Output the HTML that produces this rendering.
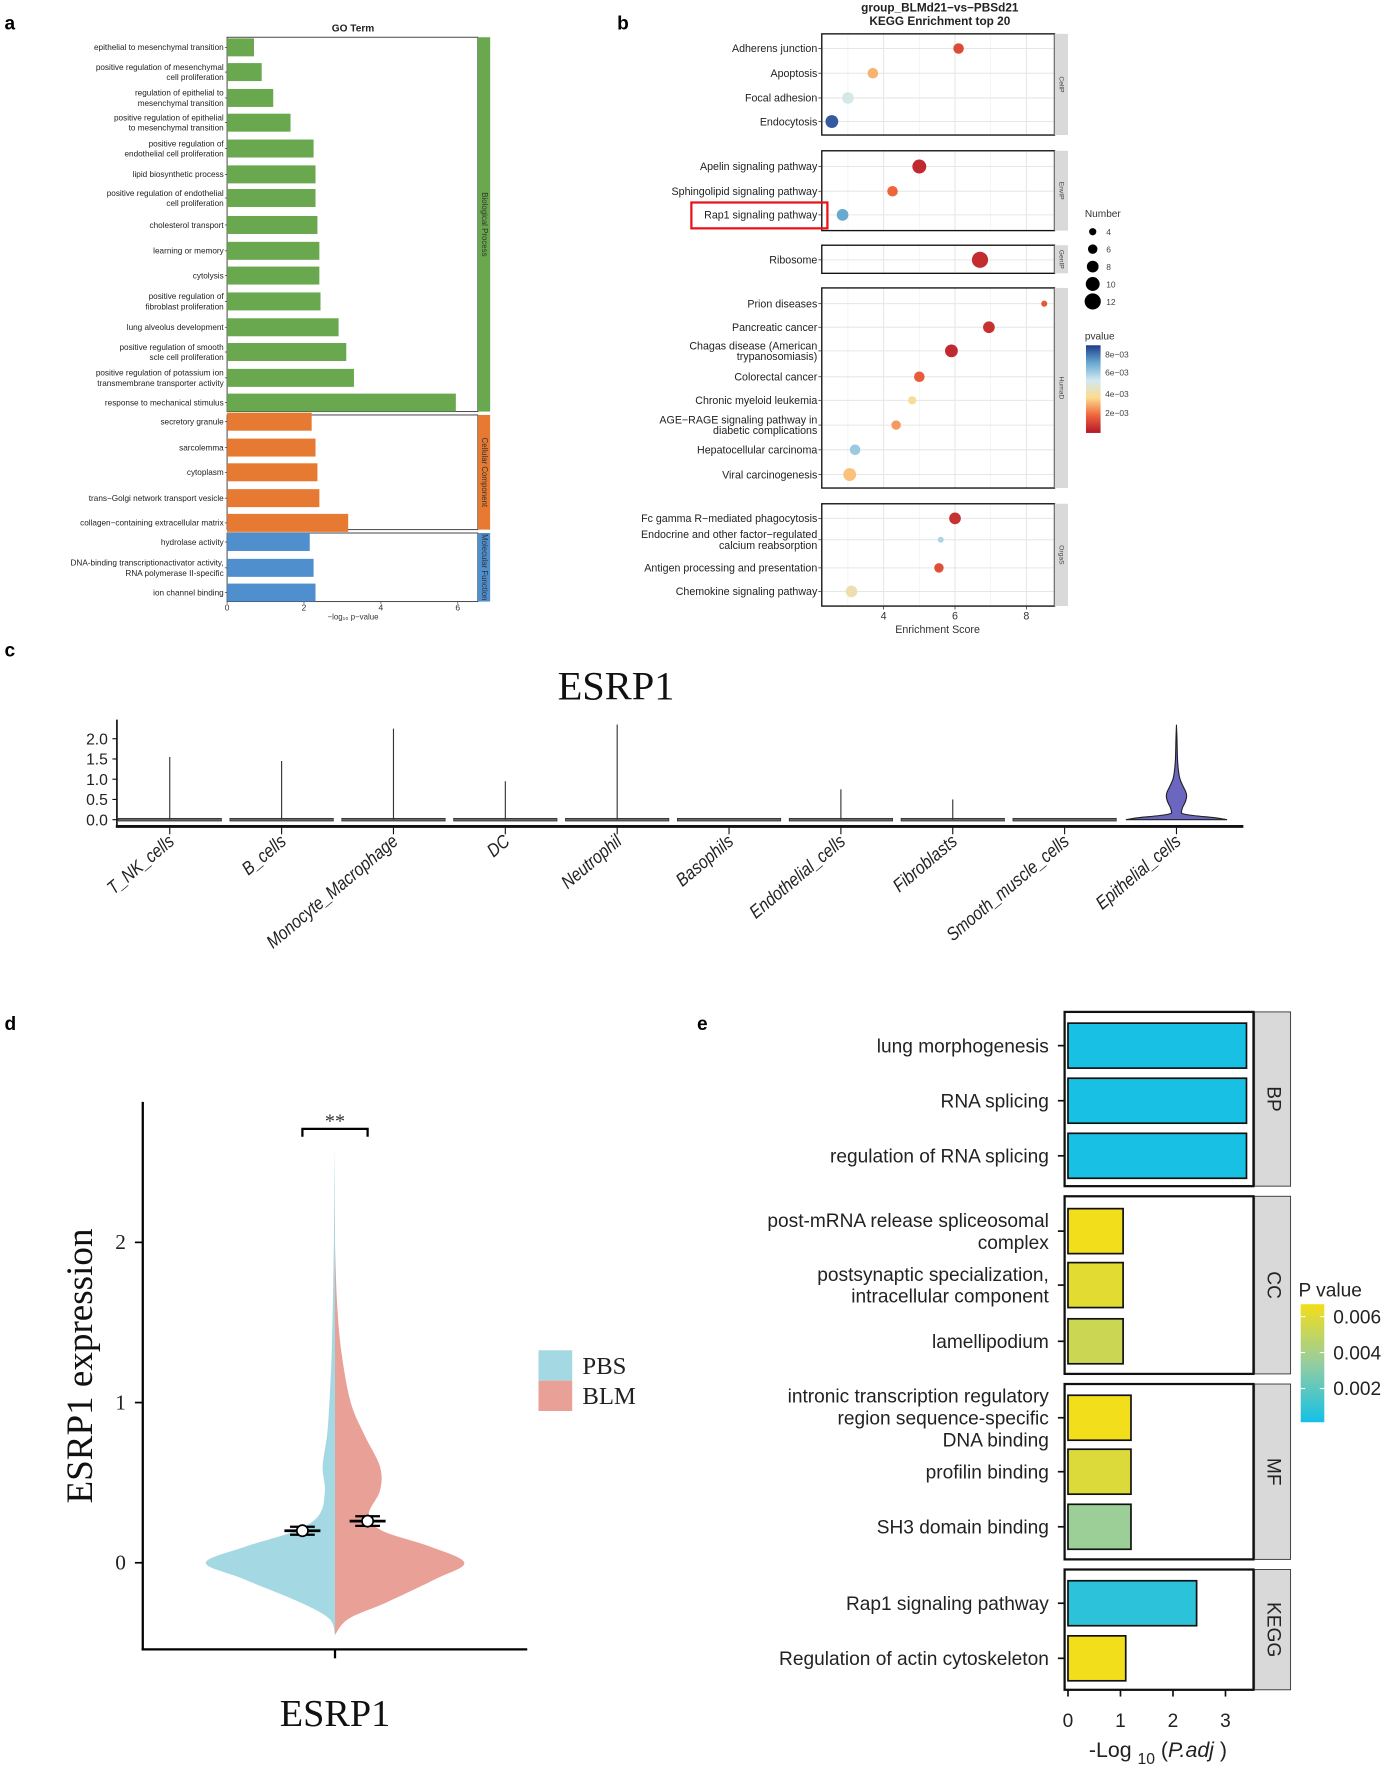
<!DOCTYPE html>
<html><head><meta charset="utf-8"><style>
html,body{margin:0;padding:0;background:#fff;}
svg{display:block;}
text{font-family:"Liberation Sans",sans-serif;}
.serif{font-family:"Liberation Serif",serif;}
</style></head><body>
<svg id="fig" width="1394" height="1772" viewBox="0 0 1240 1576" xmlns="http://www.w3.org/2000/svg">
<rect width="1240" height="1576" fill="#fff"/>
<g id="pa"></g>
<g id="pb"></g>
<g id="pc"></g>
<g id="pd"></g>
<g id="pe"></g>
</svg>
<script>
// ---------- Panel a data ----------
const goBP = ["epithelial to mesenchymal transition","positive regulation of mesenchymal|cell proliferation","regulation of epithelial to|mesenchymal transition","positive regulation of epithelial|to mesenchymal transition","positive regulation of|endothelial cell proliferation","lipid biosynthetic process","positive regulation of endothelial|cell proliferation","cholesterol transport","learning or memory","cytolysis","positive regulation of|fibroblast proliferation","lung alveolus development","positive regulation of smooth|scle cell proliferation","positive regulation of potassium ion|transmembrane transporter activity","response to mechanical stimulus"];
const goBPVal = [0.7,0.9,1.2,1.65,2.25,2.3,2.3,2.35,2.4,2.4,2.43,2.9,3.1,3.3,5.95];
const goCC = ["secretory granule","sarcolemma","cytoplasm","trans−Golgi network transport vesicle","collagen−containing extracellular matrix"];
const goCCVal = [2.2,2.3,2.35,2.4,3.15];
const goMF = ["hydrolase activity","DNA-binding transcriptionactivator activity,|RNA polymerase II-specific","ion channel binding"];
const goMFVal = [2.15,2.25,2.3];
const goTicks = [0,2,4,6];
// ---------- Panel b data ----------
const keggTerms = ["Adherens junction","Apoptosis","Focal adhesion","Endocytosis","Apelin signaling pathway","Sphingolipid signaling pathway","Rap1 signaling pathway","Ribosome","Prion diseases","Pancreatic cancer","Chagas disease (American|trypanosomiasis)","Colorectal cancer","Chronic myeloid leukemia","AGE−RAGE signaling pathway in|diabetic complications","Hepatocellular carcinoma","Viral carcinogenesis","Fc gamma R−mediated phagocytosis","Endocrine and other factor−regulated|calcium reabsorption","Antigen processing and presentation","Chemokine signaling pathway"];
const keggScore = [6.1,3.7,3.0,2.55,5.0,4.25,2.85,6.7,8.5,6.95,5.9,5.0,4.8,4.35,3.2,3.05,6.0,5.6,5.55,3.1];
const keggNumber = [7,7,8,9,10,7,8,12,3,8,9,7,5,6,7,9,8,3,6,8];
const keggP = [0.0012,0.003,0.0052,0.0085,0.0004,0.0018,0.0072,0.0005,0.0015,0.0006,0.0004,0.0016,0.0038,0.0026,0.0063,0.0032,0.0006,0.006,0.0013,0.0042];
const keggGroup = ["CellP","CellP","CellP","CellP","EnvIP","EnvIP","EnvIP","GenIP","HumaD","HumaD","HumaD","HumaD","HumaD","HumaD","HumaD","HumaD","OrgaS","OrgaS","OrgaS","OrgaS"];
const keggTicks = [4,6,8];
// ---------- Panel c data ----------
const cellTypes = ["T_NK_cells","B_cells","Monocyte_Macrophage","DC","Neutrophil","Basophils","Endothelial_cells","Fibroblasts","Smooth_muscle_cells","Epithelial_cells"];
const cellMax = [1.55,1.45,2.25,0.95,2.35,0,0.75,0.5,0,2.3];
const cTicks = [0.0,0.5,1.0,1.5,2.0];
const epiY = [0,0.05,0.1,0.15,0.2,0.3,0.4,0.5,0.6,0.7,0.8,1.0,1.2,1.5,2.0,2.3];
const epiW = [1,0.75,0.35,0.12,0.1,0.12,0.16,0.19,0.2,0.18,0.14,0.07,0.04,0.02,0.01,0];
// ---------- Panel d data ----------
const violY = [-0.45,-0.35,-0.25,-0.1,0,0.1,0.2,0.3,0.45,0.6,0.8,1.0,1.3,1.6,2.0,2.3,2.6];
const pbsW = [0,5,30,82,115,80,35,14,9,11,7,5,3,2,1,0.5,0];
const blmW = [0,12,45,90,115,85,42,30,40,40,26,14,6,2,0,0,0];
const groupMean = [0.2,0.26];
const groupErr = [0.025,0.03];
const dTicks = [0,1,2];
// ---------- Panel e data ----------
const eTerms = ["lung morphogenesis","RNA splicing","regulation of RNA splicing","post-mRNA release spliceosomal|complex","postsynaptic specialization,|intracellular component","lamellipodium","intronic transcription regulatory|region sequence-specific|DNA binding","profilin binding","SH3 domain binding","Rap1 signaling pathway","Regulation of actin cytoskeleton"];
const eVal = [3.4,3.4,3.4,1.05,1.05,1.05,1.2,1.2,1.2,2.45,1.1];
const eP = [0.0001,0.0001,0.0001,0.0066,0.006,0.0052,0.0066,0.0058,0.0035,0.0006,0.0066];
const eGroup = ["BP","BP","BP","CC","CC","CC","MF","MF","MF","KEGG","KEGG"];
const eTicks = [0,1,2,3];

const NS="http://www.w3.org/2000/svg";
function mk(tag,attrs,parent,txt){const e=document.createElementNS(NS,tag);for(const k in attrs)e.setAttribute(k,attrs[k]);if(txt!==undefined)e.textContent=txt;parent.appendChild(e);return e;}
function mlText(parent,lines,x,yc,size,lh,anchor,cls){const t=mk('text',{x:x,'font-size':size,'text-anchor':anchor||'end',fill:'#222'},parent);if(cls)t.setAttribute('class',cls);const n=lines.length;lines.forEach((l,i)=>{mk('tspan',{x:x,y:yc+(i-(n-1)/2)*lh+size*0.35},t,l);});return t;}
function lerpColor(stops,t){t=Math.max(0,Math.min(1,t));const s=t*(stops.length-1);const i=Math.min(Math.floor(s),stops.length-2);const f=s-i;const a=stops[i],b=stops[i+1];const c=[0,1,2].map(k=>Math.round(a[k]+(b[k]-a[k])*f));return `rgb(${c[0]},${c[1]},${c[2]})`;}
function smooth(pts){let d='M'+pts[0][0]+','+pts[0][1];for(let i=0;i<pts.length-1;i++){const p0=pts[Math.max(i-1,0)],p1=pts[i],p2=pts[i+1],p3=pts[Math.min(i+2,pts.length-1)];
 const c1=[p1[0]+(p2[0]-p0[0])/6,p1[1]+(p2[1]-p0[1])/6],c2=[p2[0]-(p3[0]-p1[0])/6,p2[1]-(p3[1]-p1[1])/6];
 d+=`C${c1[0]},${c1[1]} ${c2[0]},${c2[1]} ${p2[0]},${p2[1]}`;}return d;}
function label(p,txt,x,y){const t=mk('text',{x:x,y:y,'font-size':17,'font-weight':'bold',fill:'#000'},p,txt);}

// ================= Panel A =================
(function(){
const p=document.getElementById('pa');
label(p,'a',4,26);
let t=mk('text',{x:314,y:28,'font-size':9,'font-weight':'bold','text-anchor':'middle',fill:'#222'},p,'GO Term');

const x0=202,ux=34.2;const xs=v=>x0+v*ux;
const groups=[{names:goBP,vals:goBPVal,y0:33,y1:366,col:'#6aa84f',strip:'Biological Process',rows:[42,64,87,109,132,155,176,200,223,245,268,291,313,336,358]},
{names:goCC,vals:goCCVal,y0:369,y1:471,col:'#e67a33',strip:'Cellular Component',rows:[375,398,420,443,465]},
{names:goMF,vals:goMFVal,y0:474,y1:535,col:'#4f8fce',strip:'Molecular Function',rows:[482,505,527]}];
groups.forEach((g,gi)=>{
  const box=mk('rect',{x:x0,y:g.y0,width:223,height:g.y1-g.y0,fill:'#fff',stroke:'#333','stroke-width':0.8},p);
  
  const st=mk('rect',{x:425,y:g.y0,width:11,height:g.y1-g.y0,fill:g.col},p);
  
  const cy=(g.y0+g.y1)/2;
  const sl=mk('text',{x:430.5,y:cy,'font-size':7,'text-anchor':'middle',fill:'#333',transform:`rotate(90 430.5 ${cy})`,'dominant-baseline':'middle'},p,g.strip);
  
  g.names.forEach((n,i)=>{
    const y=g.rows[i];
    const b=mk('rect',{x:x0,y:y-8,width:xs(g.vals[i])-x0,height:16,fill:g.col},p);
    
    mk('line',{x1:x0-2,x2:x0,y1:y,y2:y,stroke:'#333','stroke-width':0.6},p);
    const lt=mlText(p,n.split('|'),x0-3,y,7.3,9);
    
  });
});
goTicks.forEach(v=>{mk('line',{x1:xs(v),x2:xs(v),y1:535,y2:537,stroke:'#333','stroke-width':0.6},p);
  const tk=mk('text',{x:xs(v),y:543,'font-size':7.5,'text-anchor':'middle',fill:'#333'},p,String(v));
  });
t=mk('text',{x:314,y:551,'font-size':7,'text-anchor':'middle',fill:'#333'},p,'−log₁₀ p−value');

})();

// ================= Panel B =================
(function(){
const p=document.getElementById('pb');
label(p,'b',549,26);
let t=mk('text',{x:836,y:10,'font-size':10.5,'font-weight':'bold','text-anchor':'middle',fill:'#222'},p,'group_BLMd21−vs−PBSd21');

t=mk('text',{x:836,y:22,'font-size':10.5,'font-weight':'bold','text-anchor':'middle',fill:'#222'},p,'KEGG Enrichment top 20');

const x0=731,x1=938;const xs=v=>786+(v-4)*31.75;
const facets={CellP:[30,120],EnvIP:[134,205],GenIP:[218,243],HumaD:[256,434],OrgaS:[448,539]};
const rows=[43,65,87,108,148,170,191,231,270,291,312,335,356,378,400,422,461,480,505,526];
const pStops=[[178,24,43],[239,100,60],[253,219,140],[209,233,242],[103,169,207],[33,60,140]];
const rOf=n=>1.2+n*0.5;
for(const k in facets){const [a,b]=facets[k];
  const bx=mk('rect',{x:x0,y:a,width:x1-x0,height:b-a,fill:'#fff'},p);
  
  [3,5,7].forEach(v=>mk('line',{x1:xs(v),x2:xs(v),y1:a,y2:b,stroke:'#f0f0f0','stroke-width':0.6},p));
  keggTicks.forEach(v=>mk('line',{x1:xs(v),x2:xs(v),y1:a,y2:b,stroke:'#e6e6e6','stroke-width':0.9},p));
  keggGroup.forEach((g,i)=>{if(g===k)mk('line',{x1:x0,x2:x1,y1:rows[i],y2:rows[i],stroke:'#e6e6e6','stroke-width':0.9},p);});
  mk('rect',{x:x0,y:a,width:x1-x0,height:b-a,fill:'none',stroke:'#111','stroke-width':1.2},p);
  const st=mk('rect',{x:x1,y:a,width:12,height:b-a,fill:'#d9d9d9'},p);
  
  const cy=(a+b)/2;
  const sl=mk('text',{x:944,y:cy,'font-size':6,'text-anchor':'middle','dominant-baseline':'middle',fill:'#444',transform:`rotate(90 944 ${cy})`},p,k);
  
}
keggTerms.forEach((n,i)=>{const y=rows[i];
  mk('line',{x1:x0-3,x2:x0,y1:y,y2:y,stroke:'#333','stroke-width':0.7},p);
  const lt=mlText(p,n.split('|'),x0-4,y,9.5,9.5);
  
  const c=mk('circle',{cx:xs(keggScore[i]),cy:y,r:rOf(keggNumber[i]),fill:lerpColor(pStops,keggP[i]/0.009)},p);
  
});
const hb=mk('rect',{x:615,y:180,width:121,height:23,fill:'none',stroke:'#e8141a','stroke-width':2},p);

keggTicks.forEach(v=>{mk('line',{x1:xs(v),x2:xs(v),y1:539,y2:542,stroke:'#333','stroke-width':0.7},p);
  const tk=mk('text',{x:xs(v),y:551,'font-size':9.5,'text-anchor':'middle',fill:'#333'},p,String(v));
  });
t=mk('text',{x:834,y:563,'font-size':9.5,'text-anchor':'middle',fill:'#333'},p,'Enrichment Score');

t=mk('text',{x:965,y:193,'font-size':9,fill:'#333'},p,'Number');

[4,6,8,10,12].forEach((n,i)=>{const y=206+i*15.5;
  const c=mk('circle',{cx:972,cy:y,r:rOf(n),fill:'#000'},p);
  
  const lt=mk('text',{x:984,y:y+3,'font-size':7.5,fill:'#444'},p,String(n));
  });
t=mk('text',{x:965,y:302,'font-size':9,fill:'#333'},p,'pvalue');

const defs=mk('defs',{},p);const lg=mk('linearGradient',{id:'pg',x1:0,y1:1,x2:0,y2:0},defs);
pStops.forEach((s,i)=>mk('stop',{offset:i/(pStops.length-1),'stop-color':`rgb(${s})`},lg));
const cb=mk('rect',{x:966,y:307,width:13,height:78,fill:'url(#pg)'},p);

[['8e−03',315],['6e−03',331],['4e−03',350],['2e−03',367]].forEach(([s,y])=>{
  const lt=mk('text',{x:983,y:y+3,'font-size':7.5,fill:'#444'},p,s);
  });
})();

// ================= Panel C =================
(function(){
const p=document.getElementById('pc');
label(p,'c',4,584);
let t=mk('text',{x:548,y:622,'font-size':36,'text-anchor':'middle',fill:'#111',class:'serif'},p,'ESRP1');

const ys=v=>729-v*36;const xc=i=>151+i*99.5;
mk('line',{x1:104,x2:104,y1:640,y2:736,stroke:'#111','stroke-width':1.5},p);
mk('line',{x1:103,x2:1106,y1:735,y2:735,stroke:'#111','stroke-width':2.5},p);
cTicks.forEach(v=>{mk('line',{x1:100,x2:104,y1:ys(v),y2:ys(v),stroke:'#111','stroke-width':1},p);
  const tk=mk('text',{x:96,y:ys(v)+5,'font-size':14,'text-anchor':'end',fill:'#222'},p,v.toFixed(1));
  });
cellTypes.forEach((n,i)=>{const x=xc(i);
  if(i<9){const fl=mk('rect',{x:x-46,y:ys(0)-1.2,width:92,height:2.4,fill:'#666',stroke:'#222','stroke-width':0.6},p);
    }
  if(cellMax[i]>0){const l=mk('line',{x1:x,x2:x,y1:ys(0),y2:ys(cellMax[i]),stroke:'#333','stroke-width':1},p);
    }
  mk('line',{x1:x,x2:x,y1:736,y2:742,stroke:'#111','stroke-width':1},p);
  const lb=mk('text',{x:0,y:0,'font-size':16.5,'font-style':'italic','text-anchor':'end',fill:'#222',transform:`translate(${x+5} 750) rotate(-40) scale(0.85 1)`},p,n);
  
});
const x=xc(9);const pts=[];
epiY.forEach((v,k)=>pts.push([x+epiW[k]*45,ys(v)]));
for(let k=epiY.length-1;k>=0;k--)pts.push([x-epiW[k]*45,ys(epiY[k])]);
const vp=mk('path',{d:smooth(pts)+'Z',fill:'#6b66c0',stroke:'#222','stroke-width':1},p);

})();

// ================= Panel D =================
(function(){
const p=document.getElementById('pd');
label(p,'d',4,916);
const ys=v=>1390-v*142.5;const xc=298;
let pts=violY.map((v,k)=>[xc-pbsW[k],ys(v)]);
let v=mk('path',{d:smooth(pts)+'L'+xc+','+ys(violY[violY.length-1])+'L'+xc+','+ys(violY[0])+'Z',fill:'#a4d8e3'},p);

pts=violY.map((y,k)=>[xc+blmW[k],ys(y)]);
v=mk('path',{d:smooth(pts)+'L'+xc+','+ys(violY[0])+'Z',fill:'#e9a097'},p);

[[269,0],[327,1]].forEach(([x,i])=>{
  const g=mk('g',{},p);
  mk('line',{x1:x-16,x2:x+16,y1:ys(groupMean[i]),y2:ys(groupMean[i]),stroke:'#000','stroke-width':2.5},g);
  mk('line',{x1:x-11,x2:x+11,y1:ys(groupMean[i]+groupErr[i]),y2:ys(groupMean[i]+groupErr[i]),stroke:'#000','stroke-width':2},g);
  mk('line',{x1:x-11,x2:x+11,y1:ys(groupMean[i]-groupErr[i]),y2:ys(groupMean[i]-groupErr[i]),stroke:'#000','stroke-width':2},g);
  mk('circle',{cx:x,cy:ys(groupMean[i]),r:5,fill:'#fff',stroke:'#000','stroke-width':1.5},g);
});
mk('line',{x1:127,x2:127,y1:980,y2:1468,stroke:'#000','stroke-width':2},p);
mk('line',{x1:126,x2:469,y1:1467,y2:1467,stroke:'#000','stroke-width':2},p);
mk('line',{x1:xc,x2:xc,y1:1467,y2:1475,stroke:'#000','stroke-width':2},p);
dTicks.forEach(t=>{mk('line',{x1:120,x2:127,y1:ys(t),y2:ys(t),stroke:'#000','stroke-width':1.5},p);
  const tk=mk('text',{x:112,y:ys(t)+6,'font-size':19,'text-anchor':'end',fill:'#222',class:'serif'},p,String(t));
  });
let t=mk('text',{x:82,y:1215,'font-size':33,'text-anchor':'middle',fill:'#111',class:'serif',transform:'rotate(-90 82 1215)'},p,'ESRP1 expression');

t=mk('text',{x:xc,y:1535,'font-size':34,'text-anchor':'middle',fill:'#111',class:'serif'},p,'ESRP1');

const br=mk('path',{d:'M269,1011V1004H327V1011',fill:'none',stroke:'#000','stroke-width':2},p);

t=mk('text',{x:298,y:1003,'font-size':18,'text-anchor':'middle',fill:'#333',class:'serif'},p,'**');

[['PBS','#a4d8e3',1201],['BLM','#e9a097',1228]].forEach(([n,c,y])=>{
  const r=mk('rect',{x:479,y:y,width:30,height:27,fill:c},p);
  const tt=mk('text',{x:518,y:y+21,'font-size':22,fill:'#222',class:'serif'},p,n);});
})();

// ================= Panel E =================
(function(){
const p=document.getElementById('pe');
label(p,'e',620,916);
const x0=947,x1=1115;const xs=v=>950+v*46.7;
const facets={BP:[900,1055],CC:[1064,1222],MF:[1231,1387],KEGG:[1396,1503]};
const rows=[930,979,1028,1095,1143,1193,1261,1309,1358,1426,1475];
const cStops=[[20,192,230],[150,205,160],[242,222,26]];
for(const k in facets){const [a,b]=facets[k];
  const bx=mk('rect',{x:x0,y:a,width:x1-x0,height:b-a,fill:'#fff',stroke:'#111','stroke-width':2},p);
  
  const st=mk('rect',{x:x1+1,y:a,width:32,height:b-a,fill:'#d9d9d9',stroke:'#333','stroke-width':0.8},p);
  
  const cy=(a+b)/2;
  const sl=mk('text',{x:1132,y:cy,'font-size':17,'text-anchor':'middle','dominant-baseline':'middle',fill:'#222',transform:`rotate(90 1132 ${cy})`},p,k);
  
}
eTerms.forEach((n,i)=>{const y=rows[i];
  const b=mk('rect',{x:xs(0),y:y-20,width:xs(eVal[i])-xs(0),height:40,fill:lerpColor(cStops,eP[i]/0.0066),stroke:'#111','stroke-width':1.5},p);
  
  mk('line',{x1:x0-6,x2:x0,y1:y,y2:y,stroke:'#111','stroke-width':1.5},p);
  const lt=mlText(p,n.split('|'),933,y,17,19.5);
  
});
eTicks.forEach(v=>{mk('line',{x1:xs(v),x2:xs(v),y1:1503,y2:1509,stroke:'#111','stroke-width':1.5},p);
  const tk=mk('text',{x:xs(v),y:1536,'font-size':17,'text-anchor':'middle',fill:'#222'},p,String(v));
  });
let t=mk('text',{x:1030,y:1563,'font-size':19,'text-anchor':'middle',fill:'#222'},p);

mk('tspan',{},t,'-Log ');mk('tspan',{'font-size':14,dy:6},t,'10');mk('tspan',{dy:-6},t,' (');mk('tspan',{'font-style':'italic'},t,'P.adj');mk('tspan',{},t,' )');
t=mk('text',{x:1155,y:1153,'font-size':17,fill:'#222'},p,'P value');

const defs=mk('defs',{},p);const lg=mk('linearGradient',{id:'eg',x1:0,y1:1,x2:0,y2:0},defs);
cStops.forEach((s,i)=>mk('stop',{offset:i/(cStops.length-1),'stop-color':`rgb(${s})`},lg));
const cb=mk('rect',{x:1157,y:1160,width:21,height:105,fill:'url(#eg)'},p);

[['0.006',1171],['0.004',1203],['0.002',1235]].forEach(([s,y])=>{
  mk('line',{x1:1157,x2:1161,y1:y,y2:y,stroke:'#fff'},p);mk('line',{x1:1174,x2:1178,y1:y,y2:y,stroke:'#fff'},p);
  const lt=mk('text',{x:1186,y:y+6,'font-size':17,fill:'#222'},p,s);
  });
})();
</script>
</body></html>
